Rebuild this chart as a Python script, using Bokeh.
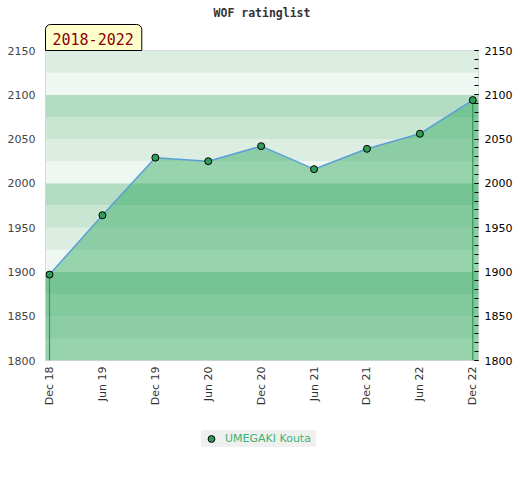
from bokeh.plotting import figure
from bokeh.models import (Range1d, FixedTicker, SingleIntervalTicker, LinearAxis,
                          Legend, LegendItem, Title)
from bokeh.layouts import column
from bokeh.embed import file_html
from bokeh.resources import INLINE
from math import pi

# ---- data ----
periods = ["Dec 18", "Jun 19", "Dec 19", "Jun 20", "Dec 20", "Jun 21", "Dec 21", "Jun 22", "Dec 22"]
ratings = [1897, 1964, 2029, 2025, 2042, 2016, 2039, 2056, 2094]
player = "UMEGAKI Kouta"
period_label = "2018-2022"
title_text = "WOF ratinglist"
y_min, y_max = 1800, 2150

idx = list(range(len(periods)))
x_start, x_end = -0.076, len(periods) - 1 + 0.108

W = 515
H1 = 408
p = figure(width=W, height=H1, output_backend="svg", toolbar_location=None,
           x_range=Range1d(x_start, x_end), y_range=Range1d(y_min, y_max),
           min_border_left=45, min_border_right=37, min_border_top=50, min_border_bottom=48)
p.title.text = title_text
p.title.align = "center"
p.title.text_font = "DejaVu Sans Mono"
p.title.text_font_size = "11.5px"
p.title.text_font_style = "bold"
p.title.text_color = "#333333"
p.title.standoff = 6
p.background_fill_color = "white"
p.border_fill_color = "white"
p.outline_line_color = "#d4d4d4"
p.grid.visible = False

# period box above the frame
box = Title(text=period_label, align="left", offset=0, standoff=0,
            text_font="DejaVu Sans Mono", text_font_size="15px", text_font_style="normal",
            text_color="#8b0000", background_fill_color="#ffffcc",
            border_line_color="black", border_line_width=1,
            padding=dict(left=7, right=8, top=8, bottom=6),
            border_radius=dict(top_left=5, top_right=5, bottom_right=0, bottom_left=0))
p.add_layout(box, "above")

# background bands
band_colors = ["#eef7f1", "#dcede2", "#c8e6d2", "#b3dcc2"]
band_step = 25
bottoms = list(range(y_min, y_max, band_step))
p.quad(left=x_start, right=x_end, bottom=bottoms, top=[b + band_step for b in bottoms],
       fill_color=[band_colors[i % 4] for i in range(len(bottoms))], line_color=None)

# area
ax = [x_start] + idx + [x_end]
ay = [ratings[0]] + ratings + [ratings[-1]]
p.varea(x=ax, y1=y_min, y2=ay, fill_color="#2da65a", fill_alpha=0.45)
p.segment(x0=[idx[0], idx[-1]], y0=[y_min, y_min], x1=[idx[0], idx[-1]],
          y1=[ratings[0], ratings[-1]], line_color="#2e9a55", line_width=1.2)
p.line(idx, ratings, line_color="#5b9fd6", line_width=1.5)
marker_style = dict(size=7, fill_color="#2f9e5a", line_color="black", line_width=1)
p.scatter(idx, ratings, **marker_style)

# axes
xa = p.xaxis[0]
xa.ticker = FixedTicker(ticks=idx)
xa.major_label_overrides = {i: s for i, s in zip(idx, periods)}
xa.major_label_orientation = pi / 2
xa.major_tick_line_color = None
xa.minor_tick_line_color = None
xa.major_tick_out = 0
xa.minor_tick_out = 0
xa.axis_line_color = None
xa.major_label_text_font = "DejaVu Sans"
xa.major_label_text_font_size = "11px"
xa.major_label_text_color = "#333333"
xa.major_label_standoff = 6

ya = p.yaxis[0]
ya.ticker = SingleIntervalTicker(interval=50)
ya.major_tick_line_color = None
ya.minor_tick_line_color = None
ya.major_tick_out = 0
ya.minor_tick_out = 0
ya.axis_line_color = None
ya.major_label_text_font = "DejaVu Sans"
ya.major_label_text_font_size = "11px"
ya.major_label_text_color = "#444444"
ya.major_label_standoff = 10

ra = LinearAxis(ticker=SingleIntervalTicker(interval=50, num_minor_ticks=5))
ra.axis_line_color = None
ra.major_tick_in = 4
ra.major_tick_out = 0
ra.minor_tick_in = 4
ra.minor_tick_out = 0
ra.major_tick_line_color = "black"
ra.minor_tick_line_color = "black"
ra.major_label_text_font = "DejaVu Sans"
ra.major_label_text_font_size = "11px"
ra.major_label_text_color = "black"
ra.major_label_standoff = 6
p.add_layout(ra, "right")

# legend strip below (frame aligned with the main plot by the column)
LH = 56
p2 = figure(width=W, height=LH, output_backend="svg", toolbar_location=None,
            x_range=Range1d(x_start, x_end), y_range=Range1d(0, 1),
            x_axis_type=None, y_axis_type=None, min_border=0)
p2.outline_line_color = None
p2.grid.visible = False
p2.background_fill_color = "white"
p2.border_fill_color = "white"
series = p2.scatter(idx, ratings, **marker_style)  # off-range here, used for the legend glyph
legend = Legend(items=[LegendItem(label=player, renderers=[series])],
                orientation="horizontal", location=(156, 17),
                background_fill_color="#f0f0f0", background_fill_alpha=1,
                border_line_color=None, label_text_color="#3cb371",
                label_text_font="DejaVu Sans", label_text_font_size="11px",
                glyph_width=20, glyph_height=17, label_height=17, label_width=91,
                padding=1, margin=0, label_standoff=4)
p2.add_layout(legend)

layout = column(p, p2, spacing=0)
open("out.html", "w").write(file_html(layout, INLINE))
